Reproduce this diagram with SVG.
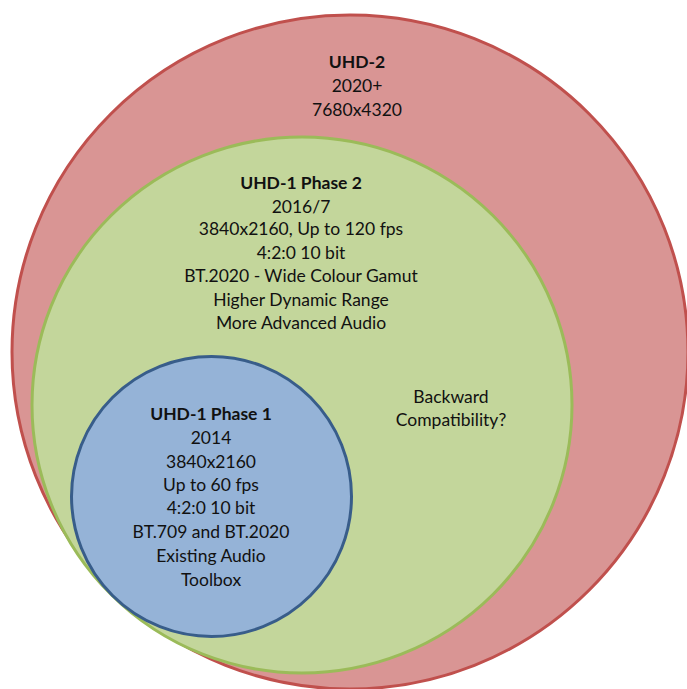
<svg xmlns="http://www.w3.org/2000/svg" width="687" height="689" viewBox="0 0 687 689">
<style>
text{font-family:Lato,"Liberation Sans",Arial,sans-serif;font-size:17.5px;fill:#111;text-anchor:middle}
.b{font-weight:bold}
.red{fill:#D99594;stroke:#C0504D;stroke-width:3}
.green{fill:#C3D69B;stroke:#9BBB59;stroke-width:3}
.blue{fill:#95B3D7;stroke:#385D8A;stroke-width:3}
</style>
<rect width="687" height="689" fill="#fff"/>
<g id="uhd2">
<ellipse class="red" cx="350" cy="352" rx="338" ry="337"/>
<text class="b" x="357" y="68">UHD-2</text>
<text x="357" y="92">2020+</text>
<text x="357" y="116">7680x4320</text>
</g>
<g id="uhd1p2">
<ellipse class="green" cx="302" cy="405" rx="270" ry="268"/>
<text class="b" x="301" y="189">UHD-1 Phase 2</text>
<text x="301" y="213">2016/7</text>
<text x="301" y="235">3840x2160, Up to 120 fps</text>
<text x="301" y="259">4:2:0 10 bit</text>
<text x="301" y="282">BT.2020 - Wide Colour Gamut</text>
<text x="301" y="306">Higher Dynamic Range</text>
<text x="301" y="329">More Advanced Audio</text>
<text x="451" y="403">Backward</text>
<text x="451" y="426">Compatibility?</text>
</g>
<g id="uhd1p1">
<ellipse class="blue" cx="211.5" cy="496.5" rx="140" ry="140"/>
<text class="b" x="211" y="420">UHD-1 Phase 1</text>
<text x="211" y="444">2014</text>
<text x="211" y="468">3840x2160</text>
<text x="211" y="491">Up to 60 fps</text>
<text x="211" y="514">4:2:0 10 bit</text>
<text x="211" y="538">BT.709 and BT.2020</text>
<text x="211" y="562">Existing Audio</text>
<text x="211" y="586">Toolbox</text>
</g>
<g id="connectors"/>
</svg>
